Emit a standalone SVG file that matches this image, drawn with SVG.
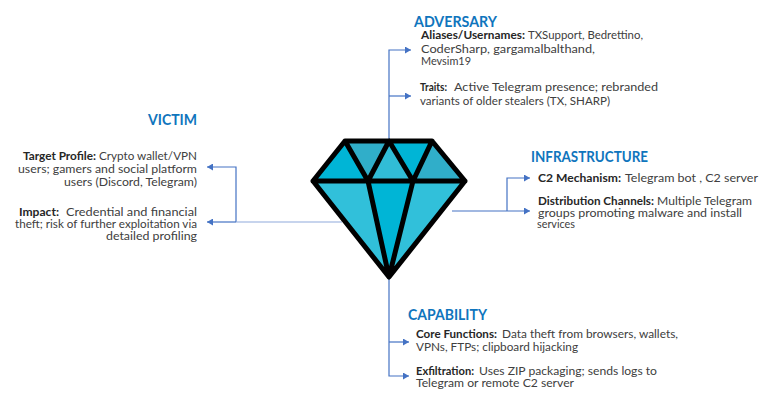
<svg xmlns="http://www.w3.org/2000/svg" width="774" height="406" viewBox="0 0 774 406">
<style>
text{font-family:"Lato","Liberation Sans",sans-serif;font-size:10.5px;fill:#404040}
.b{font-weight:700;fill:#262626}
.h{font-size:14.5px;font-weight:700;fill:#0f75bd}
.c{fill:none;stroke:#4472c4;stroke-width:1.2}
.l{stroke:#8faadc}
.s{stroke:#000;stroke-width:5;stroke-linejoin:round;stroke-linecap:round;fill:none}
</style>
<defs><marker id="a" markerUnits="userSpaceOnUse" markerWidth="7" markerHeight="7" refX="6" refY="3.5" orient="auto"><path d="M0 0L6 3.5L0 7Z" fill="#4472c4"/></marker></defs>
<rect width="774" height="406" fill="#fff"/>
<g id="connectors">
<path class="c" d="M389 140V50H411" marker-end="url(#a)"/>
<path class="c" d="M389 96H411" marker-end="url(#a)"/>
<path class="c" d="M236 222V167H207" marker-end="url(#a)"/>
<path class="c" d="M236 222H207" marker-end="url(#a)"/>
<path class="c l" d="M342 222H236"/>
<path class="c" d="M452 211H530" marker-end="url(#a)"/>
<path class="c" d="M507 211V178H530" marker-end="url(#a)"/>
<path class="c" d="M389 278V376H409" marker-end="url(#a)"/>
<path class="c" d="M389 342H409" marker-end="url(#a)"/>
</g>
<g id="diamond">
<path fill="#00b5d6" d="M345 141L313 181H368Z"/>
<path fill="#30aec9" d="M345 141H389L368 181Z"/>
<path fill="#31bcd6" d="M389 141L368 181H413Z"/>
<path fill="#00b5d6" d="M389 141H432L413 181Z"/>
<path fill="#30aec9" d="M432 141L465 181H413Z"/>
<path fill="#31c0da" d="M313 181H368L389 277Z"/>
<path fill="#00b5d6" d="M368 181H413L389 277Z"/>
<path fill="#31c0da" d="M413 181H465L389 277Z"/>
<path class="s" d="M345 141H432L465 181L389 277L313 181ZM313 181H465M345 141L368 181L389 277L413 181L432 141M389 141L368 181M389 141L413 181"/>
</g>
<g id="adversary">
<text class="h" x="414" y="27" textLength="83" lengthAdjust="spacingAndGlyphs">ADVERSARY</text>
<text y="39"><tspan class="b" x="421" textLength="104" lengthAdjust="spacingAndGlyphs">Aliases/Usernames:</tspan><tspan x="528" textLength="115" lengthAdjust="spacingAndGlyphs">TXSupport, Bedrettino,</tspan></text>
<text x="421" y="53" textLength="174" lengthAdjust="spacingAndGlyphs">CoderSharp, gargamalbalthand,</text>
<text x="421" y="65" textLength="50" lengthAdjust="spacingAndGlyphs">Mevsim19</text>
<text y="91"><tspan class="b" x="420" textLength="27" lengthAdjust="spacingAndGlyphs">Traits:</tspan><tspan x="454" textLength="204" lengthAdjust="spacingAndGlyphs">Active Telegram presence; rebranded</tspan></text>
<text x="420" y="105" textLength="190" lengthAdjust="spacingAndGlyphs">variants of older stealers (TX, SHARP)</text>
</g>
<g id="victim">
<text class="h" x="148" y="125" textLength="49" lengthAdjust="spacingAndGlyphs">VICTIM</text>
<text y="160"><tspan class="b" x="23" textLength="73" lengthAdjust="spacingAndGlyphs">Target Profile:</tspan><tspan x="99" textLength="98" lengthAdjust="spacingAndGlyphs">Crypto wallet/VPN</tspan></text>
<text x="18" y="173" textLength="179" lengthAdjust="spacingAndGlyphs">users; gamers and social platform</text>
<text x="64" y="186" textLength="133" lengthAdjust="spacingAndGlyphs">users (Discord, Telegram)</text>
<text y="216"><tspan class="b" x="19" textLength="40" lengthAdjust="spacingAndGlyphs">Impact:</tspan><tspan x="66" textLength="131" lengthAdjust="spacingAndGlyphs">Credential and financial</tspan></text>
<text x="15" y="228" textLength="182" lengthAdjust="spacingAndGlyphs">theft; risk of further exploitation via</text>
<text x="106" y="240" textLength="91" lengthAdjust="spacingAndGlyphs">detailed profiling</text>
</g>
<g id="infrastructure">
<text class="h" x="531" y="162" textLength="117" lengthAdjust="spacingAndGlyphs">INFRASTRUCTURE</text>
<text y="182"><tspan class="b" x="538" textLength="83" lengthAdjust="spacingAndGlyphs">C2 Mechanism:</tspan><tspan x="625" textLength="133" lengthAdjust="spacingAndGlyphs">Telegram bot ,  C2 server</tspan></text>
<text y="205"><tspan class="b" x="538" textLength="116" lengthAdjust="spacingAndGlyphs">Distribution Channels:</tspan><tspan x="657" textLength="95" lengthAdjust="spacingAndGlyphs">Multiple Telegram</tspan></text>
<text x="538" y="217" textLength="204" lengthAdjust="spacingAndGlyphs">groups promoting malware and install</text>
<text x="537" y="228" textLength="38" lengthAdjust="spacingAndGlyphs">services</text>
</g>
<g id="capability">
<text class="h" x="408" y="320" textLength="79" lengthAdjust="spacingAndGlyphs">CAPABILITY</text>
<text y="338"><tspan class="b" x="416" textLength="81" lengthAdjust="spacingAndGlyphs">Core Functions:</tspan><tspan x="502" textLength="176" lengthAdjust="spacingAndGlyphs">Data theft from browsers, wallets,</tspan></text>
<text x="416" y="351" textLength="162" lengthAdjust="spacingAndGlyphs">VPNs, FTPs; clipboard hijacking</text>
<text y="375"><tspan class="b" x="416" textLength="58" lengthAdjust="spacingAndGlyphs">Exfiltration:</tspan><tspan x="479" textLength="178" lengthAdjust="spacingAndGlyphs">Uses ZIP packaging; sends logs to</tspan></text>
<text x="416" y="387" textLength="158" lengthAdjust="spacingAndGlyphs">Telegram or remote C2 server</text>
</g>
</svg>
